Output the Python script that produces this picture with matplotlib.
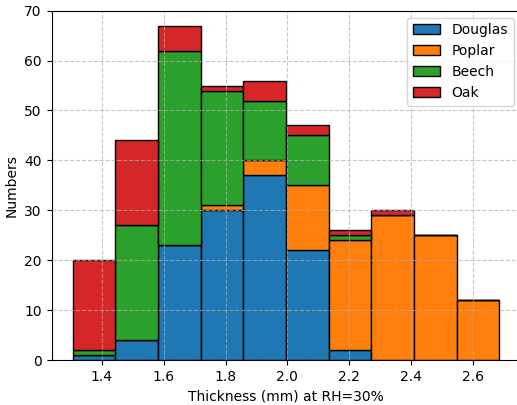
import numpy as np
import matplotlib
matplotlib.use("Agg")
import matplotlib.pyplot as plt

# bin edges (mm) and counts per bin for each species
edges = np.linspace(1.306, 2.685, 11)
douglas = [1, 4, 23, 30, 37, 22, 2, 0, 0, 0]
poplar = [0, 0, 0, 1, 3, 13, 22, 29, 25, 12]
beech = [1, 23, 39, 23, 12, 10, 1, 0, 0, 0]
oak = [18, 17, 5, 1, 4, 2, 1, 1, 0, 0]
labels = ["Douglas", "Poplar", "Beech", "Oak"]


def main():
    centers = (edges[:-1] + edges[1:]) / 2
    fig = plt.figure(figsize=(5.17, 4.05), dpi=100)
    ax = fig.add_axes([51.5 / 517, 45 / 405, 469 / 517, 349.3 / 405])

    ax.hist(
        [centers] * 4,
        bins=edges,
        weights=[douglas, poplar, beech, oak],
        stacked=True,
        edgecolor="black",
        label=labels,
    )
    ax.set_ylim(0, 70)
    ax.set_xlim(1.237, 2.754)
    ax.set_xticks([1.4, 1.6, 1.8, 2.0, 2.2, 2.4, 2.6])
    ax.grid(True, linestyle="--", alpha=0.7)
    ax.set_xlabel("Thickness (mm) at RH=30%")
    ax.set_ylabel("Numbers")
    ax.legend(loc="upper right")

    fig.savefig("out.png", dpi=100)


if __name__ == "__main__":
    main()
